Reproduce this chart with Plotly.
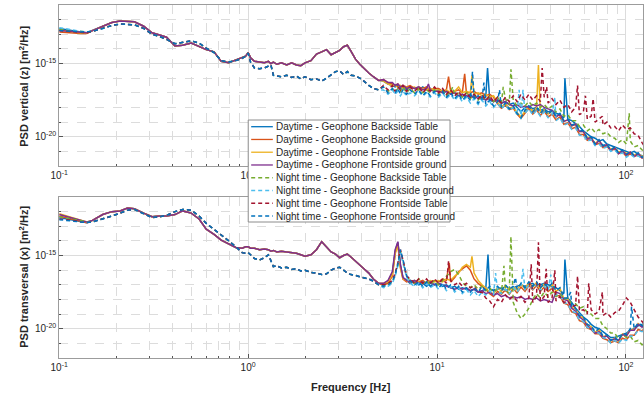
import plotly.graph_objects as go

# ---------------------------------------------------------------------------
# Frequency grid [Hz]
# ---------------------------------------------------------------------------
FREQ_LOW = [0.10, 0.11, 0.12, 0.13, 0.14,
            0.15, 0.17, 0.19, 0.21, 0.23, 0.25, 0.28, 0.31, 0.34, 0.37,
            0.41, 0.45, 0.50, 0.55, 0.60, 0.66, 0.72, 0.79, 0.86, 0.93,
            0.97, 1.00, 1.03, 1.08, 1.15, 1.22, 1.28, 1.32, 1.36, 1.42,
            1.50, 1.60, 1.70, 1.80, 1.90, 2.00, 2.15, 2.30, 2.45, 2.60,
            2.75, 2.90, 3.05, 3.20, 3.35, 3.50, 3.70, 3.90, 4.10, 4.35,
            4.60, 4.90]
FREQ_HIGH = [5.2, 5.5, 5.8, 6.0, 6.2, 6.4, 6.6, 6.9, 7.2, 7.6, 8.0, 8.4, 8.8, 9.2, 9.7,
             10.2, 10.7, 11.2, 11.8, 12.4, 13.0, 13.6, 14.3, 15.0, 15.7, 16.5, 17.3, 18.1, 19.0, 19.9,
             20.9, 21.9, 23.0, 24.1, 25.3, 26.5, 27.8, 29.2, 30.6, 32.1, 33.6, 35.2, 36.9, 38.7, 40.6,
             42.6, 44.7, 46.9, 49.2, 51.6, 54.1, 56.7, 59.5, 62.4, 65.4, 68.6, 72.0, 75.5, 79.2, 83.0,
             87.1, 91.3, 95.8, 100.5, 105.4, 110.5, 115.9, 121.6, 127.5]
FREQ = FREQ_LOW + FREQ_HIGH

# ---------------------------------------------------------------------------
# PSD values as log10 exponents of m^2/Hz
# ---------------------------------------------------------------------------
# --- vertical (z) ---
Z_DAY_MID = [-12.75, -12.45, -12.2, -12.1, -12.1, -12.15, -12.45, -12.9, -13.05, -13.2,
             -13.8, -13.75, -13.6, -13.85, -14.05, -14.2, -14.85, -14.95, -14.75, -14.6,
             -14.5, -14.25, -14.6, -14.85, -14.9, -14.95, -14.85, -15.0, -14.9, -15.05,
             -14.95, -15.1, -14.95, -15.1, -15.15, -14.95, -14.8, -14.35, -14.2, -14.05,
             -14.4, -14.25, -14.1, -13.85, -13.75, -14.15, -14.7, -15.05, -15.35, -15.65,
             -15.9, -16.15]
Z_NIGHT_MID = [-12.8, -12.6, -12.4, -12.3, -12.3, -12.35, -12.6, -13.0, -13.15, -13.35,
               -13.65, -13.55, -13.45, -13.6, -13.95, -14.25, -14.8, -14.9, -14.8, -14.65,
               -14.5, -14.3, -14.9, -15.3, -15.35, -15.3, -15.2, -15.1, -15.8, -15.85,
               -15.9, -15.8, -15.95, -15.85, -16.05, -15.9, -16.1, -16.05, -16.2, -16.0,
               -15.8, -15.55, -15.5, -15.75, -15.55, -15.8, -15.85, -16.0, -16.2, -16.5,
               -16.7, -16.8]

Z_DAY_BT_HEAD = [-12.6, -12.7, -12.75, -12.85, -12.9]
Z_DAY_BG_HEAD = [-12.85, -12.9, -12.95, -12.95, -12.95]
Z_DAY_FT_HEAD = [-12.7, -12.8, -12.85, -12.9, -12.9]
Z_DAY_FG_HEAD = [-12.75, -12.8, -12.85, -12.9, -12.9]
Z_NIGHT_BT_HEAD = [-12.65, -12.7, -12.75, -12.8, -12.85]
Z_NIGHT_BG_HEAD = [-12.55, -12.65, -12.7, -12.8, -12.85]
Z_NIGHT_FT_HEAD = [-12.75, -12.8, -12.85, -12.85, -12.9]
Z_NIGHT_FG_HEAD = [-12.75, -12.75, -12.8, -12.85, -12.85]

Z_DAY_BT_HI = [-16.2, -16.4, -16.5, -16.6, -16.5, -16.7, -16.6, -16.8, -16.6, -16.7, -16.8, -16.6, -16.8, -16.7, -16.9,
               -16.8, -17.0, -16.9, -17.1, -17.0, -17.2, -17.1, -17.3, -17.1, -17.4, -17.2, -17.5, -17.3, -17.5, -17.6,
               -17.5, -17.7, -17.6, -17.8, -17.7, -18.0, -18.3, -18.0, -17.9, -18.1, -18.0, -18.2, -18.1, -18.3, -18.2,
               -18.4, -18.5, -18.7, -18.8, -18.9, -19.1, -19.3, -19.6, -19.8, -20.0, -20.1, -20.3, -20.2, -20.5, -20.6,
               -20.7, -20.8, -20.9, -21.0, -21.1, -21.0, -21.2, -21.3, -21.4]
Z_DAY_BG_HI = [-16.1, -16.3, -16.4, -16.5, -16.4, -16.6, -16.5, -16.6, -16.5, -16.7, -16.6, -16.7, -16.6, -16.8, -16.7,
               -16.7, -16.9, -16.8, -16.9, -16.9, -16.8, -17.0, -17.0, -17.0, -16.9, -17.1, -17.0, -17.2, -17.1, -17.3,
               -17.75, -18.05, -17.85, -18.15, -18.05, -18.45, -18.75, -18.35, -18.05, -18.45, -18.15, -18.55, -18.25, -18.65, -18.45,
               -18.85, -18.65, -19.15, -19.05, -19.45, -19.35, -19.85, -19.85, -20.25, -20.15, -20.55, -20.45, -20.75, -20.65, -20.95,
               -20.85, -21.15, -21.05, -21.35, -21.15, -21.35, -21.25, -21.45, -21.35]
Z_DAY_FT_HI = [-16.2, -16.4, -16.5, -16.5, -16.6, -16.5, -16.7, -16.6, -16.7, -16.6, -16.8, -16.7, -16.8, -16.7, -16.8,
               -16.8, -16.9, -16.8, -17.0, -16.9, -16.6, -17.0, -16.9, -17.0, -17.1, -17.0, -17.2, -17.1, -17.3, -17.2,
               -17.65, -17.95, -17.75, -18.05, -17.95, -18.35, -18.65, -18.25, -17.95, -18.25, -18.05, -18.35, -18.15, -18.45, -18.25,
               -18.65, -18.45, -18.95, -18.85, -19.25, -19.15, -19.65, -19.65, -20.05, -20.05, -20.45, -20.25, -20.65, -20.55, -20.85,
               -20.75, -21.05, -20.95, -21.15, -21.05, -21.25, -21.15, -21.35, -21.25]
Z_DAY_FG_HI = [-16.1, -16.3, -16.3, -16.5, -16.4, -16.6, -16.5, -16.7, -16.6, -16.7, -16.6, -16.8, -16.7, -16.8, -16.9,
               -16.9, -17.0, -16.9, -17.1, -17.0, -17.2, -17.1, -17.2, -17.3, -17.2, -17.4, -17.3, -17.5, -17.4, -17.6,
               -17.5, -17.7, -17.6, -17.8, -17.9, -17.8, -18.0, -17.9, -18.0, -17.8, -17.9, -17.8, -18.0, -18.1, -18.2,
               -18.65, -18.45, -18.95, -18.85, -19.25, -19.15, -19.65, -19.65, -20.15, -20.05, -20.55, -20.25, -20.65, -20.55, -20.95,
               -20.75, -21.15, -20.95, -21.25, -21.05, -21.35, -21.15, -21.45, -21.35]
Z_NIGHT_BT_HI = [-16.6, -16.9, -16.7, -17.0, -16.7, -16.9, -16.6, -17.0, -16.7, -17.0, -16.7, -17.0, -16.8, -17.0, -16.8,
                 -17.1, -16.8, -17.2, -16.9, -17.2, -17.0, -17.3, -17.0, -17.4, -17.1, -17.5, -17.2, -17.5, -17.3, -17.6,
                 -17.3, -17.7, -17.4, -17.8, -17.5, -17.9, -17.7, -17.9, -17.6, -17.9, -17.7, -18.0, -17.8, -18.1, -17.9,
                 -18.3, -18.1, -18.6, -18.5, -18.9, -18.9, -19.3, -19.2, -19.6, -19.4, -19.7, -19.5, -19.8, -19.7, -20.0,
                 -20.1, -20.4, -20.2, -20.5, -20.3, -20.7, -20.6, -20.9, -21.0]
Z_NIGHT_BG_HI = [-16.8, -17.1, -16.8, -17.1, -16.9, -17.2, -16.9, -17.2, -17.0, -17.2, -16.9, -17.2, -17.0, -17.3, -17.0,
                 -17.3, -17.0, -17.4, -17.1, -17.5, -17.2, -17.6, -17.3, -17.7, -17.4, -17.8, -17.5, -17.9, -17.6, -18.0,
                 -17.7, -18.1, -17.8, -18.2, -18.0, -18.5, -18.8, -18.4, -18.1, -18.5, -18.2, -18.6, -18.3, -18.7, -18.5,
                 -18.9, -18.7, -19.2, -19.1, -19.5, -19.4, -19.9, -19.9, -20.3, -20.2, -20.6, -20.5, -20.8, -20.7, -21.0,
                 -20.9, -21.2, -21.1, -21.4, -21.2, -21.4, -21.3, -21.5, -21.4]
Z_NIGHT_FT_HI = [-16.5, -16.8, -16.5, -16.9, -16.6, -16.8, -16.5, -16.9, -16.6, -16.9, -16.6, -17.0, -16.7, -16.9, -16.6,
                 -17.0, -16.7, -17.1, -16.8, -17.2, -16.9, -17.3, -17.0, -17.3, -17.1, -17.4, -17.1, -17.5, -17.2, -17.6,
                 -17.3, -17.7, -17.3, -17.6, -17.2, -17.6, -17.1, -17.5, -17.1, -17.5, -17.2, -17.6, -17.3, -17.7, -17.4,
                 -17.8, -17.5, -18.0, -17.8, -18.3, -18.0, -18.5, -18.3, -18.8, -18.6, -19.0, -18.8, -19.2, -19.0, -19.4,
                 -19.3, -19.6, -19.2, -19.5, -19.4, -19.8, -19.9, -20.4, -20.8]
Z_NIGHT_FG_HI = [-16.6, -17.0, -16.7, -17.0, -16.7, -17.1, -16.8, -17.1, -16.8, -17.1, -16.8, -17.2, -16.9, -17.2, -16.9,
                 -17.2, -16.9, -17.3, -17.0, -17.4, -17.1, -17.5, -17.2, -17.5, -17.3, -17.7, -17.4, -17.8, -17.5, -17.9,
                 -17.6, -18.0, -17.7, -18.1, -17.9, -18.4, -18.7, -18.2, -17.9, -18.3, -18.0, -18.4, -18.1, -18.5, -18.2,
                 -18.6, -18.4, -18.9, -18.8, -19.2, -19.1, -19.6, -19.6, -20.1, -20.0, -20.5, -20.2, -20.6, -20.5, -20.9,
                 -20.7, -21.1, -20.9, -21.2, -21.0, -21.3, -21.1, -21.4, -21.3]

# narrow line peaks in the vertical spectra: frequency [Hz] / log10 PSD
Z_DAY_BT_PEAK_F = [18.5, 47.5]
Z_DAY_BT_PEAK_V = [-15.3, -16.0]
Z_DAY_BG_PEAK_F = [11.5, 14.0]
Z_DAY_BG_PEAK_V = [-15.9, -15.7]
Z_DAY_FT_PEAK_F = [15.3, 34.4]
Z_DAY_FT_PEAK_V = [-15.8, -15.1]
Z_DAY_FG_PEAK_F = [9.0]
Z_DAY_FG_PEAK_V = [-16.4]
Z_NIGHT_BT_PEAK_F = [12.1, 22.4, 24.6, 104.0]
Z_NIGHT_BT_PEAK_V = [-16.6, -16.6, -15.4, -18.4]
Z_NIGHT_BG_PEAK_F = [27.2, 28.5, 42.0]
Z_NIGHT_BG_PEAK_V = [-16.8, -16.8, -17.3]
Z_NIGHT_FT_PEAK_F = [36.0, 38.0, 55.4, 61.0, 67.0, 75.0]
Z_NIGHT_FT_PEAK_V = [-15.3, -16.6, -16.5, -17.2, -17.4, -18.6]
Z_NIGHT_FG_PEAK_F = [15.4, 17.7, 21.4]
Z_NIGHT_FG_PEAK_V = [-15.55, -16.3, -16.8]

# --- transversal (x) ---
X_DAY_MID = [-12.6, -12.2, -12.0, -11.95, -11.75, -11.8, -12.1, -12.35, -12.3, -12.3,
             -12.2, -11.95, -12.1, -12.5, -13.2, -13.55, -13.95, -14.2, -14.45, -14.5,
             -14.4, -14.4, -14.5, -14.5, -14.6, -14.55, -14.6, -14.7, -14.65, -14.75,
             -14.7, -14.75, -14.8, -14.85, -14.95, -15.05, -14.95, -14.6, -14.05, -14.4,
             -14.75, -14.9, -15.15, -15.0, -14.9, -15.1, -15.4, -15.7, -15.9, -16.2,
             -16.6, -16.9]
X_NIGHT_MID = [-12.7, -12.5, -12.3, -12.1, -11.9, -11.85, -12.15, -12.4, -12.35, -12.25,
               -12.0, -11.85, -11.9, -12.3, -12.8, -13.2, -13.6, -14.0, -14.4, -14.8,
               -14.85, -14.8, -14.95, -15.2, -15.3, -15.15, -14.95, -15.4, -15.75, -15.7,
               -15.85, -15.8, -15.95, -15.9, -16.05, -16.0, -16.15, -16.2, -16.3, -16.25,
               -16.0, -15.85, -15.8, -16.0, -16.2, -16.3, -16.35, -16.45, -16.5, -16.6,
               -16.75, -17.0]

X_DAY_BT_HEAD = [-12.4, -12.5, -12.6, -12.7, -12.75]
X_DAY_BG_HEAD = [-12.3, -12.45, -12.55, -12.65, -12.75]
X_DAY_FT_HEAD = [-12.15, -12.3, -12.45, -12.6, -12.7]
X_DAY_FG_HEAD = [-12.2, -12.35, -12.5, -12.6, -12.7]
X_NIGHT_BT_HEAD = [-12.35, -12.45, -12.55, -12.65, -12.7]
X_NIGHT_BG_HEAD = [-12.45, -12.55, -12.65, -12.7, -12.75]
X_NIGHT_FT_HEAD = [-12.5, -12.55, -12.6, -12.7, -12.75]
X_NIGHT_FG_HEAD = [-12.55, -12.6, -12.65, -12.7, -12.75]

X_DAY_BT_HI = [-17.0, -16.8, -16.2, -14.7, -14.1, -15.7, -16.5, -16.7, -16.9, -16.8, -17.0, -16.9, -17.1, -16.9, -17.0,
               -16.9, -17.1, -17.0, -17.2, -17.1, -17.3, -17.2, -17.3, -17.4, -17.3, -17.5, -17.4, -17.3, -17.3, -17.4,
               -17.3, -17.2, -17.4, -17.3, -17.2, -17.1, -17.0, -17.1, -17.0, -16.9, -17.1, -17.0, -16.9, -17.0, -17.1,
               -17.2, -17.4, -17.6, -17.9, -18.2, -18.6, -18.9, -19.2, -19.4, -19.7, -19.9, -20.0, -20.2, -20.4, -20.6,
               -20.6, -20.5, -20.4, -20.3, -20.1, -20.0, -19.8, -19.7, -19.6]
X_DAY_BG_HI = [-17.0, -16.9, -16.4, -14.8, -14.2, -15.8, -16.6, -16.8, -16.7, -16.9, -16.8, -16.7, -16.9, -16.8, -16.7,
               -16.8, -16.6, -16.7, -16.8, -16.5, -16.1, -15.9, -15.7, -16.0, -16.6, -16.9, -17.1, -17.3, -17.6, -17.8,
               -17.45, -17.65, -17.35, -17.65, -17.25, -17.55, -17.15, -17.45, -17.05, -17.35, -17.05, -17.45, -17.15, -17.45, -17.25,
               -17.75, -17.75, -18.25, -18.35, -18.85, -18.95, -19.45, -19.55, -19.95, -20.05, -20.35, -20.35, -20.65, -20.75, -20.95,
               -20.85, -20.95, -20.65, -20.75, -20.45, -20.45, -20.05, -20.15, -19.85]
X_DAY_FT_HI = [-16.9, -16.8, -16.3, -14.9, -14.3, -15.9, -16.6, -16.7, -16.8, -16.7, -16.8, -16.9, -16.8, -16.7, -16.8,
               -16.7, -16.8, -16.6, -16.7, -16.4, -16.2, -15.8, -15.6, -15.8, -16.2, -16.7, -17.0, -17.2, -17.5, -17.6,
               -17.15, -17.45, -17.05, -17.35, -17.15, -17.35, -16.95, -17.25, -16.85, -17.15, -16.85, -17.25, -16.95, -17.25, -16.95,
               -17.45, -17.25, -17.95, -17.95, -18.55, -18.65, -19.15, -19.25, -19.75, -19.85, -20.25, -20.05, -20.55, -20.45, -20.85,
               -20.65, -20.85, -20.35, -20.45, -20.05, -20.05, -19.65, -19.85, -19.45]
X_DAY_FG_HI = [-16.9, -16.7, -16.1, -14.6, -14.05, -15.6, -16.5, -16.7, -16.8, -16.7, -16.9, -16.8, -16.9, -16.8, -17.0,
               -16.9, -17.0, -17.1, -17.2, -17.3, -17.2, -17.3, -17.2, -17.4, -17.3, -17.5, -17.4, -17.6, -17.5, -17.7,
               -17.6, -17.8, -17.7, -17.9, -17.8, -17.9, -17.8, -18.0, -17.9, -18.0, -17.9, -18.1, -18.0, -18.1, -18.2,
               -17.5, -17.6, -18.0, -18.1, -18.6, -18.8, -19.2, -19.4, -19.8, -20.0, -20.3, -20.2, -20.6, -20.5, -20.8,
               -20.7, -20.8, -20.4, -20.5, -20.1, -20.1, -19.7, -19.9, -19.5]
X_NIGHT_BT_HI = [-17.1, -17.0, -16.8, -16.3, -15.6, -14.7, -15.4, -16.4, -16.7, -16.9, -16.6, -16.9, -16.7, -17.0, -16.7,
                 -17.0, -16.7, -16.4, -16.1, -15.95, -16.3, -16.8, -17.1, -17.2, -17.0, -17.3, -17.1, -17.4, -17.2, -17.5,
                 -17.3, -17.6, -17.3, -17.6, -18.2, -18.9, -19.3, -19.0, -18.6, -18.0, -17.6, -17.9, -17.5, -17.8, -17.5,
                 -17.8, -17.6, -18.0, -17.9, -18.3, -18.3, -18.6, -18.5, -18.9, -19.0, -19.3, -19.3, -19.8, -20.0, -20.3,
                 -20.3, -20.7, -20.4, -20.6, -20.5, -20.9, -20.8, -21.1, -21.0]
X_NIGHT_BG_HI = [-17.2, -17.1, -16.9, -16.4, -15.7, -14.8, -15.5, -16.5, -16.9, -17.1, -16.9, -17.2, -16.9, -17.2, -17.0,
                 -17.3, -17.0, -17.4, -17.1, -17.5, -17.2, -17.6, -17.3, -17.7, -17.4, -17.8, -17.5, -17.7, -17.4, -17.7,
                 -17.4, -17.6, -17.3, -17.6, -17.2, -17.5, -17.1, -17.4, -17.0, -17.3, -17.0, -17.4, -17.1, -17.4, -17.2,
                 -17.7, -17.7, -18.2, -18.3, -18.8, -18.9, -19.4, -19.5, -19.9, -20.0, -20.3, -20.3, -20.6, -20.7, -21.0,
                 -20.8, -21.0, -20.7, -20.8, -20.5, -20.5, -20.1, -20.2, -19.9]
X_NIGHT_FT_HI = [-17.0, -16.9, -16.7, -16.2, -15.5, -14.6, -15.3, -16.4, -16.6, -16.9, -16.6, -16.9, -16.6, -16.9, -16.6,
                 -16.9, -16.6, -16.9, -16.7, -17.0, -16.8, -17.1, -16.9, -17.2, -17.1, -17.5, -17.5, -17.9, -18.1, -18.5,
                 -18.0, -18.2, -17.7, -18.0, -17.8, -18.1, -17.8, -18.2, -17.9, -18.2, -17.8, -18.1, -17.8, -18.2, -17.9,
                 -18.1, -17.8, -18.2, -18.1, -18.5, -18.4, -18.8, -18.7, -19.0, -18.7, -19.0, -18.8, -19.1, -18.9, -19.2,
                 -18.9, -18.8, -18.4, -17.9, -18.2, -18.7, -19.2, -19.5, -19.8]
X_NIGHT_FG_HI = [-17.1, -17.0, -16.8, -16.3, -15.6, -14.6, -15.3, -16.4, -16.7, -17.0, -16.8, -17.1, -16.8, -17.1, -16.9,
                 -17.2, -16.9, -17.3, -17.0, -17.4, -17.1, -17.5, -17.2, -17.5, -17.2, -17.5, -17.1, -17.4, -17.1, -17.4,
                 -17.1, -17.4, -17.0, -17.3, -17.1, -17.3, -16.9, -17.2, -16.8, -17.1, -16.8, -17.2, -16.9, -17.2, -16.9,
                 -17.4, -17.2, -17.9, -17.9, -18.5, -18.6, -19.1, -19.2, -19.7, -19.8, -20.2, -20.0, -20.5, -20.4, -20.8,
                 -20.6, -20.8, -20.3, -20.4, -20.0, -20.0, -19.6, -19.8, -19.4]

# narrow line peaks in the transversal spectra
X_DAY_BT_PEAK_F = [18.6, 47.5]
X_DAY_BT_PEAK_V = [-14.93, -15.27]
X_DAY_BG_PEAK_F = [11.6]
X_DAY_BG_PEAK_V = [-15.5]
X_DAY_FT_PEAK_F = [15.3]
X_DAY_FT_PEAK_V = [-15.05]
X_DAY_FG_PEAK_F = []
X_DAY_FG_PEAK_V = []
X_NIGHT_BT_PEAK_F = [22.6, 24.6]
X_NIGHT_BT_PEAK_V = [-15.7, -13.7]
X_NIGHT_BG_PEAK_F = [20.4, 28.5, 40.0]
X_NIGHT_BG_PEAK_V = [-16.2, -15.9, -16.3]
X_NIGHT_FT_PEAK_F = [11.5, 31.5, 34.4, 37.8, 42.0, 55.4, 63.5, 75.0]
X_NIGHT_FT_PEAK_V = [-15.4, -15.6, -14.1, -15.9, -16.0, -16.4, -16.9, -17.5]
X_NIGHT_FG_PEAK_F = [26.0, 51.0, 107.0]
X_NIGHT_FG_PEAK_V = [-16.5, -17.5, -18.5]

# ---------------------------------------------------------------------------
# Series definitions
# ---------------------------------------------------------------------------
NAMES = ["Daytime - Geophone Backside Table",
         "Daytime - Geophone Backside ground",
         "Daytime - Geophone Frontside Table",
         "Daytime - Geophone Frontside ground",
         "Night time - Geophone Backside Table",
         "Night time - Geophone Backside ground",
         "Night time - Geophone Frontside Table",
         "Night time - Geophone Frontside ground"]
COLORS = ["#0072BD", "#D95319", "#EDB120", "#7E2F8E",
          "#77AC30", "#4DBEEE", "#A2142F", "#0072BD"]
DASHES = ["solid"] * 4 + ["4px,3px"] * 4

Z_SERIES = [
    (Z_DAY_BT_HEAD + Z_DAY_MID + Z_DAY_BT_HI, Z_DAY_BT_PEAK_F, Z_DAY_BT_PEAK_V),
    (Z_DAY_BG_HEAD + Z_DAY_MID + Z_DAY_BG_HI, Z_DAY_BG_PEAK_F, Z_DAY_BG_PEAK_V),
    (Z_DAY_FT_HEAD + Z_DAY_MID + Z_DAY_FT_HI, Z_DAY_FT_PEAK_F, Z_DAY_FT_PEAK_V),
    (Z_DAY_FG_HEAD + Z_DAY_MID + Z_DAY_FG_HI, Z_DAY_FG_PEAK_F, Z_DAY_FG_PEAK_V),
    (Z_NIGHT_BT_HEAD + Z_NIGHT_MID + Z_NIGHT_BT_HI, Z_NIGHT_BT_PEAK_F, Z_NIGHT_BT_PEAK_V),
    (Z_NIGHT_BG_HEAD + Z_NIGHT_MID + Z_NIGHT_BG_HI, Z_NIGHT_BG_PEAK_F, Z_NIGHT_BG_PEAK_V),
    (Z_NIGHT_FT_HEAD + Z_NIGHT_MID + Z_NIGHT_FT_HI, Z_NIGHT_FT_PEAK_F, Z_NIGHT_FT_PEAK_V),
    (Z_NIGHT_FG_HEAD + Z_NIGHT_MID + Z_NIGHT_FG_HI, Z_NIGHT_FG_PEAK_F, Z_NIGHT_FG_PEAK_V),
]
X_SERIES = [
    (X_DAY_BT_HEAD + X_DAY_MID + X_DAY_BT_HI, X_DAY_BT_PEAK_F, X_DAY_BT_PEAK_V),
    (X_DAY_BG_HEAD + X_DAY_MID + X_DAY_BG_HI, X_DAY_BG_PEAK_F, X_DAY_BG_PEAK_V),
    (X_DAY_FT_HEAD + X_DAY_MID + X_DAY_FT_HI, X_DAY_FT_PEAK_F, X_DAY_FT_PEAK_V),
    (X_DAY_FG_HEAD + X_DAY_MID + X_DAY_FG_HI, X_DAY_FG_PEAK_F, X_DAY_FG_PEAK_V),
    (X_NIGHT_BT_HEAD + X_NIGHT_MID + X_NIGHT_BT_HI, X_NIGHT_BT_PEAK_F, X_NIGHT_BT_PEAK_V),
    (X_NIGHT_BG_HEAD + X_NIGHT_MID + X_NIGHT_BG_HI, X_NIGHT_BG_PEAK_F, X_NIGHT_BG_PEAK_V),
    (X_NIGHT_FT_HEAD + X_NIGHT_MID + X_NIGHT_FT_HI, X_NIGHT_FT_PEAK_F, X_NIGHT_FT_PEAK_V),
    (X_NIGHT_FG_HEAD + X_NIGHT_MID + X_NIGHT_FG_HI, X_NIGHT_FG_PEAK_F, X_NIGHT_FG_PEAK_V),
]

for base, pf, pv in Z_SERIES + X_SERIES:
    assert len(base) == len(FREQ), len(base)
    assert len(pf) == len(pv)

X_TICKS = [0.1, 1, 10, 100]
X_TICK_TEXT = ["10<sup>-1</sup>", "10<sup>0</sup>", "10<sup>1</sup>", "10<sup>2</sup>"]
# the upper panel's 10^1 label sits under the legend box
X_TICK_TEXT_TOP = ["10<sup>-1</sup>", "10<sup>0</sup>", "", "10<sup>2</sup>"]
Y_TICKS = [1e-20, 1e-15]
Y_TICK_TEXT = ["10<sup>-20</sup>", "10<sup>-15</sup>"]


def spectrum(base, peak_f, peak_v):
    """Merge the broadband spectrum with its narrow peaks, sorted by frequency."""
    pts = sorted(zip(FREQ + peak_f, base + peak_v))
    return [p[0] for p in pts], [10.0 ** p[1] for p in pts]


FONT = "Liberation Sans, Arial, Helvetica, sans-serif"
TXT = "#262626"
GRID = "#dcdcdc"
BOX = "#9c9c9c"
LW = 1.5

fig = go.Figure()
for panel, series in (("", Z_SERIES), ("2", X_SERIES)):
    for name, col, dash, (base, pf, pv) in zip(NAMES, COLORS, DASHES, series):
        fx, fy = spectrum(base, pf, pv)
        fig.add_trace(go.Scatter(
            x=fx, y=fy, mode="lines", name=name,
            line=dict(color=col, width=LW, dash=dash),
            xaxis="x" + panel, yaxis="y" + panel, showlegend=False))

minor_x = [m * 10.0 ** d for d in (-1, 0, 1, 2) for m in range(2, 10)]
minor_y = [10.0 ** -k for k in range(11, 23) if k not in (15, 20)]

xaxis_style = dict(
    type="log", range=[-1, 2.09], tickvals=X_TICKS, ticktext=X_TICK_TEXT,
    showgrid=True, gridcolor=GRID, gridwidth=1, zeroline=False,
    showline=True, linecolor=BOX, linewidth=1, mirror=True,
    ticks="inside", ticklen=4, tickcolor="#555555",
    tickfont=dict(family=FONT, size=10, color=TXT),
    minor=dict(tickvals=minor_x, showgrid=True, gridcolor=GRID, griddash="dash",
               ticks="inside", ticklen=2, tickcolor="#555555"),
)
yaxis_style = dict(
    type="log", range=[-22, -11], tickvals=Y_TICKS, ticktext=Y_TICK_TEXT,
    showgrid=True, gridcolor=GRID, gridwidth=1, zeroline=False,
    showline=True, linecolor=BOX, linewidth=1, mirror=True,
    ticks="inside", ticklen=4, tickcolor="#555555",
    tickfont=dict(family=FONT, size=10, color=TXT),
    minor=dict(tickvals=minor_y, showgrid=True, gridcolor=GRID, griddash="dash",
               ticks="inside", ticklen=2, tickcolor="#555555"),
)

W, H = 644, 397
fig.update_layout(
    width=W, height=H, margin=dict(l=0, r=0, t=0, b=0),
    paper_bgcolor="white", plot_bgcolor="white", showlegend=False,
    font=dict(family=FONT, color=TXT),
    xaxis=dict(xaxis_style, ticktext=X_TICK_TEXT_TOP, domain=[51 / W, 1.0], anchor="y"),
    yaxis=dict(yaxis_style, domain=[1 - 166 / H, 1 - 5 / H], anchor="x"),
    xaxis2=dict(xaxis_style, domain=[51 / W, 1.0], anchor="y2"),
    yaxis2=dict(yaxis_style, domain=[1 - 358 / H, 1 - 197 / H], anchor="x2"),
)

annotations = [
    dict(text="<b>PSD vertical (z) [m<sup>2</sup>/Hz]</b>", x=15 / W, y=1 - 86 / H,
         textangle=-90, font=dict(size=11)),
    dict(text="<b>PSD transversal (x) [m<sup>2</sup>/Hz]</b>", x=15 / W, y=1 - 277 / H,
         textangle=-90, font=dict(size=11)),
    dict(text="<b>Frequency [Hz]</b>", x=347 / W, y=1 - 387 / H, font=dict(size=11)),
]
for a in annotations:
    a.update(xref="paper", yref="paper", showarrow=False, xanchor="center", yanchor="middle")

# Legend box drawn over both panels
shapes = [dict(type="rect", xref="paper", yref="paper",
               x0=243 / W, x1=448 / W, y0=1 - 222 / H, y1=1 - 120 / H,
               fillcolor="white", line=dict(color="#8c8c8c", width=1), layer="above")]
for i, (name, col, dash) in enumerate(zip(NAMES, COLORS, DASHES)):
    py = 126.7 + 12.76 * i
    yy = 1 - py / H
    shapes.append(dict(type="line", xref="paper", yref="paper",
                       x0=246 / W, x1=268 / W, y0=yy, y1=yy, layer="above",
                       line=dict(color=col, width=1.3, dash=dash)))
    annotations.append(dict(text=name, xref="paper", yref="paper", x=269 / W, y=yy,
                            xanchor="left", yanchor="middle", showarrow=False,
                            font=dict(size=10, color=TXT)))

fig.update_layout(shapes=shapes, annotations=annotations)
fig.write_html("out.html")
